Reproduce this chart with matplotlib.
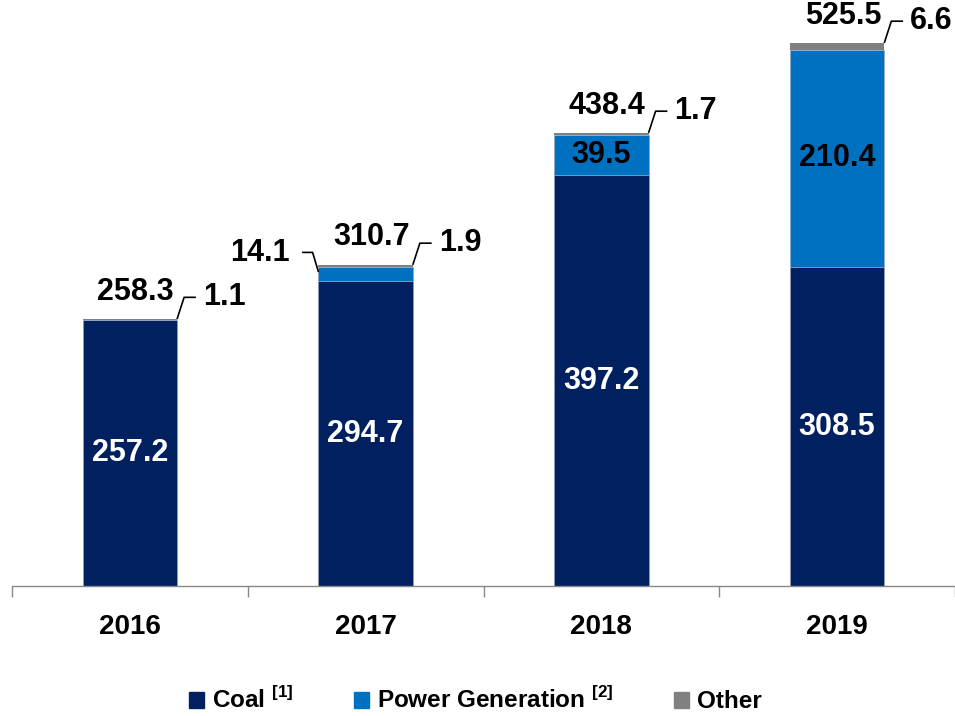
import matplotlib
matplotlib.use('Agg')
import matplotlib.pyplot as plt
from matplotlib.patches import Patch
import numpy as np

plt.rcParams['font.family'] = ['Liberation Sans', 'DejaVu Sans']
plt.rcParams['mathtext.fontset'] = 'custom'
plt.rcParams['mathtext.bf'] = 'Liberation Sans:bold'
plt.rcParams['mathtext.rm'] = 'Liberation Sans:bold'

years = ['2016', '2017', '2018', '2019']
coal = [257.2, 294.7, 397.2, 308.5]
power = [0.0, 14.1, 39.5, 210.4]
other = [1.1, 1.9, 1.7, 6.6]
totals = [258.3, 310.7, 438.4, 525.5]

c_coal = '#002060'
c_power = '#0070C0'
c_other = '#808080'

fig = plt.figure(figsize=(9.55, 7.16), dpi=100)
ax = fig.add_axes([0.0126, 0.1816, 0.9874, 0.8184])

x = np.arange(len(years))
w = 0.40
bottom_other = np.array(coal) + np.array(power)
ax.bar(x, coal, w, color=c_coal, edgecolor='#9aa6c0', linewidth=0.4)
ax.bar(x, power, w, bottom=coal, color=c_power, edgecolor='#9aa6c0', linewidth=0.4)
ax.bar(x, other, w, bottom=bottom_other, color=c_other, linewidth=0)

fs = 22
for i in range(len(years)):
    # coal label
    ax.text(x[i], coal[i] / 2, f'{coal[i]:.1f}', color='white', fontsize=fs,
            fontweight='bold', ha='center', va='center')
    # power label
    if power[i] > 30:
        ax.text(x[i], coal[i] + power[i] / 2, f'{power[i]:.1f}', color='black',
                fontsize=fs, fontweight='bold', ha='center', va='center')
    elif power[i] > 0:
        y0 = coal[i] + power[i] / 2 + 2
        xl = x[i] - w / 2
        ax.plot([xl, xl - 0.025, xl - 0.07], [y0, y0 + 19, y0 + 19], color='black', lw=1.2,
                solid_capstyle='butt')
        ax.text(xl - 0.12, y0 + 18, f'{power[i]:.1f}', color='black', fontsize=fs,
                fontweight='bold', ha='right', va='center')
    # total label
    top = totals[i]
    ax.text(x[i] + 0.025, top + 26.5, f'{top:.1f}', color='black', fontsize=fs,
            fontweight='bold', ha='center', va='center')
    # other label with leader
    xr = x[i] + w / 2
    ly = top + 21
    ax.plot([xr, xr + 0.03, xr + 0.08], [top, ly, ly], color='black', lw=1.2,
            solid_capstyle='butt')
    ax.text(xr + 0.11, ly, f'{other[i]:.1f}', color='black', fontsize=fs,
            fontweight='bold', ha='left', va='center')

ax.set_xlim(-0.5, 3.5)
ax.set_ylim(0, 567)
ax.set_xticks(x)
ax.set_xticklabels(years, fontsize=20, fontweight='bold')
ax.set_xticks(np.arange(-0.5, 4.0, 1.0), minor=True)
ax.tick_params(axis='x', which='major', length=0, pad=20)
ax.tick_params(axis='x', which='minor', length=8, color='#888888', width=1)
ax.set_yticks([])
for s in ['top', 'right', 'left']:
    ax.spines[s].set_visible(False)
ax.spines['bottom'].set_color('#888888')
ax.spines['bottom'].set_linewidth(1)

handles = [Patch(color=c_coal), Patch(color=c_power), Patch(color=c_other)]
labels = [r'Coal $^{\mathbf{[1]}}$', r'Power Generation $^{\mathbf{[2]}}$', 'Other']
leg = fig.legend(handles, labels, loc='center', bbox_to_anchor=(0.498, 0.022), ncol=3,
                 frameon=False, handlelength=0.6, handleheight=0.6, handletextpad=0.35,
                 columnspacing=2.5, prop={'size': 17.5, 'weight': 'bold'})

fig.savefig('out.png', dpi=100)
